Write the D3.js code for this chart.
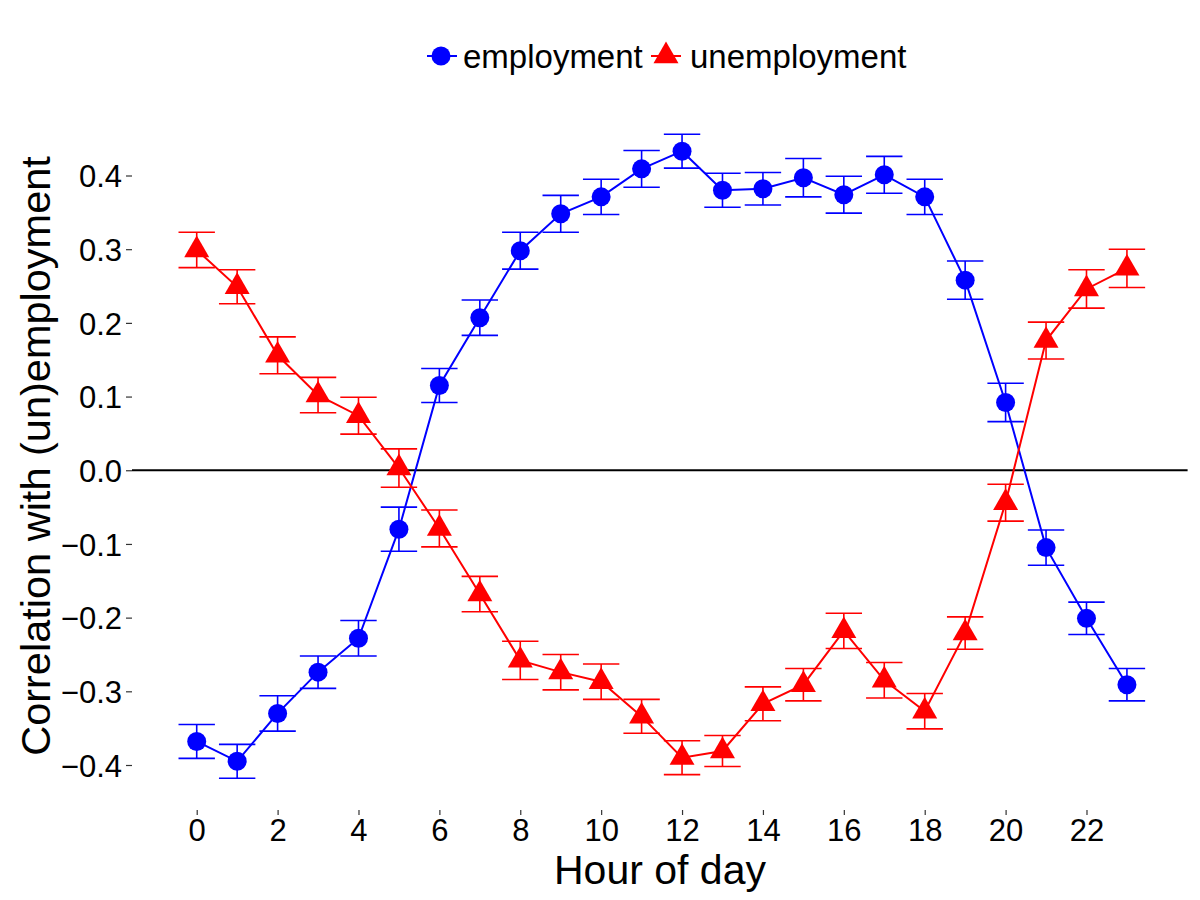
<!DOCTYPE html>
<html>
<head>
<meta charset="utf-8">
<script src="https://cdnjs.cloudflare.com/ajax/libs/d3/7.8.5/d3.min.js"></script>
<style>
  body { margin: 0; background: #fff; }
  svg { font-family: 'Liberation Sans', Arial, sans-serif; }
</style>
</head>
<body>
<svg width="1200" height="900"></svg>
<script>
// hours 0..23
let hours = d3.range(0, 24);
let employment = [-0.368, -0.395, -0.330, -0.274, -0.228, -0.080, 0.115, 0.207, 0.298, 0.348, 0.371, 0.409,
                  0.433, 0.380, 0.382, 0.397, 0.374, 0.401, 0.371, 0.258, 0.092, -0.105, -0.201, -0.291];
let employmentErr = [0.023, 0.023, 0.024, 0.022, 0.024, 0.030, 0.023, 0.024, 0.025, 0.025, 0.024, 0.025,
                     0.023, 0.023, 0.022, 0.026, 0.025, 0.025, 0.024, 0.026, 0.026, 0.024, 0.022, 0.022];
let unemployment = [0.299, 0.249, 0.156, 0.102, 0.074, 0.003, -0.079, -0.168, -0.258, -0.274, -0.287, -0.334,
                    -0.390, -0.381, -0.317, -0.291, -0.218, -0.285, -0.327, -0.221, -0.044, 0.176, 0.246, 0.274];
let unemploymentErr = [0.024, 0.023, 0.025, 0.024, 0.025, 0.026, 0.025, 0.024, 0.026, 0.024, 0.024, 0.023,
                       0.023, 0.021, 0.023, 0.022, 0.024, 0.024, 0.024, 0.022, 0.025, 0.025, 0.026, 0.026];
let xTicks = [0, 2, 4, 6, 8, 10, 12, 14, 16, 18, 20, 22];
let yTicks = [-0.4, -0.3, -0.2, -0.1, 0.0, 0.1, 0.2, 0.3, 0.4];

let series = [
  {name: 'employment', color: '#0000ff', shape: 'circle', values: employment, err: employmentErr},
  {name: 'unemployment', color: '#ff0000', shape: 'triangle', values: unemployment, err: unemploymentErr}
];

let svg = d3.select('svg');

let xScale = d3.scaleLinear()
                .domain([-1.6, 24.5])
                .range([132, 1187.6]);
let yScale = d3.scaleLinear()
                .domain([-0.4, 0.4])
                .range([765, 175.5]);

let triangle = d3.symbol().type(d3.symbolTriangle).size(270);

// zero line
svg.append('line')
    .attr('x1', xScale.range()[0])
    .attr('x2', xScale.range()[1])
    .attr('y1', yScale(0))
    .attr('y2', yScale(0))
    .style('stroke', 'black')
    .style('stroke-width', 2);

// axes
let xAxis = d3.axisBottom(xScale)
              .tickValues(xTicks)
              .tickSize(5)
              .tickPadding(4)
              .tickFormat(d3.format('d'));
let yAxis = d3.axisLeft(yScale)
              .tickValues(yTicks)
              .tickSize(6)
              .tickPadding(4)
              .tickFormat(d => d3.format('.1f')(d).replace('-', '\u2212'));

let gx = svg.append('g')
    .attr('transform', 'translate(0,810)')
    .call(xAxis);
let gy = svg.append('g')
    .attr('transform', 'translate(132,0)')
    .call(yAxis);

[gx, gy].forEach(g => {
  g.select('.domain').remove();
  g.selectAll('.tick line').style('stroke', '#333').style('stroke-width', 1.2);
  g.selectAll('.tick text')
    .style('font-size', '31px')
    .style('fill', 'black')
    .style('font-family', "'Liberation Sans', Arial, sans-serif");
});
gy.selectAll('.tick text').attr('dy', '0.36em');

// axis titles
svg.append('text')
    .attr('x', 660)
    .attr('y', 884)
    .style('font-size', '41px')
    .style('text-anchor', 'middle')
    .text('Hour of day');

svg.append('text')
    .attr('transform', 'rotate(-90)')
    .attr('x', -456)
    .attr('y', 50)
    .style('font-size', '41.5px')
    .style('text-anchor', 'middle')
    .text('Correlation with (un)employment');

// series
series.forEach(s => {
  let g = svg.append('g');
  let pts = hours.map((h, i) => ({h: h, v: s.values[i], e: s.err[i]}));

  let bars = g.selectAll('g.err')
      .data(pts)
      .enter()
      .append('g')
      .style('stroke', s.color)
      .style('stroke-width', 1.6);
  bars.append('line')
      .attr('x1', d => xScale(d.h)).attr('x2', d => xScale(d.h))
      .attr('y1', d => yScale(d.v - d.e)).attr('y2', d => yScale(d.v + d.e));
  bars.append('line')
      .attr('x1', d => xScale(d.h - 0.45)).attr('x2', d => xScale(d.h + 0.45))
      .attr('y1', d => yScale(d.v + d.e)).attr('y2', d => yScale(d.v + d.e));
  bars.append('line')
      .attr('x1', d => xScale(d.h - 0.45)).attr('x2', d => xScale(d.h + 0.45))
      .attr('y1', d => yScale(d.v - d.e)).attr('y2', d => yScale(d.v - d.e));

  g.append('path')
      .datum(pts)
      .attr('d', d3.line().x(d => xScale(d.h)).y(d => yScale(d.v)))
      .style('fill', 'none')
      .style('stroke', s.color)
      .style('stroke-width', 2);

  if (s.shape === 'circle') {
    g.selectAll('circle')
        .data(pts)
        .enter()
        .append('circle')
        .attr('cx', d => xScale(d.h))
        .attr('cy', d => yScale(d.v))
        .attr('r', 9.5)
        .attr('fill', s.color);
  } else {
    g.selectAll('path.tri')
        .data(pts)
        .enter()
        .append('path')
        .classed('tri', true)
        .attr('d', triangle)
        .attr('transform', d => `translate(${xScale(d.h)},${yScale(d.v)})`)
        .attr('fill', s.color);
  }
});

// legend
let legendItems = [
  {name: 'employment', color: '#0000ff', shape: 'circle', x: 427, textX: 463},
  {name: 'unemployment', color: '#ff0000', shape: 'triangle', x: 651, textX: 690}
];
let legend = svg.append('g');
legendItems.forEach(l => {
  legend.append('line')
      .attr('x1', l.x).attr('x2', l.x + 30)
      .attr('y1', 56).attr('y2', 56)
      .style('stroke', l.color)
      .style('stroke-width', 2);
  if (l.shape === 'circle') {
    legend.append('circle')
        .attr('cx', l.x + 14).attr('cy', 56).attr('r', 9.5)
        .attr('fill', l.color);
  } else {
    legend.append('path')
        .attr('d', triangle)
        .attr('transform', `translate(${l.x + 15},56)`)
        .attr('fill', l.color);
  }
  legend.append('text')
      .attr('x', l.textX)
      .attr('y', 68)
      .style('font-size', '33px')
      .text(l.name);
});
</script>
</body>
</html>
